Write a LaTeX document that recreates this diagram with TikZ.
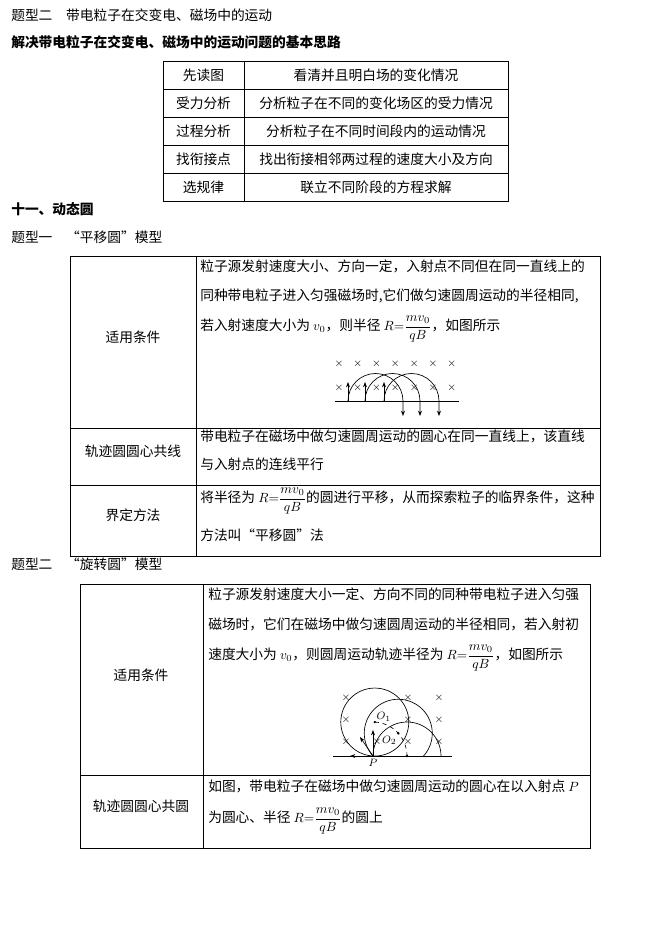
\documentclass[tikz,border=0pt]{standalone}
\usepackage{fontspec}
\setmainfont{Noto Sans CJK SC}
\usepackage{amsmath}
\usetikzlibrary{calc,arrows.meta}
\tikzset{
  txt/.style={anchor=base west,inner sep=0.75pt,font=\fontsize{10.3}{12}\selectfont},
  ctxt/.style={inner sep=0.75pt,font=\fontsize{10.3}{12}\selectfont},
  crs/.style={inner sep=0pt,font=\footnotesize},
  arr/.style={-{Stealth[length=4pt,width=3pt]},line width=0.5pt},
}
\newcommand{\Rfrac}{$R{=}\dfrac{mv_0}{qB}$}
\begin{document}
\begin{tikzpicture}[x=0.75pt,y=0.75pt,yscale=-1,xscale=1]
\useasboundingbox (0,0) rectangle (669,945);

% headings
\node (h1) at (10,20.5) [txt] {题型二\quad 带电粒子在交变电、磁场中的运动};
\node (h2) at (10,47.5) [txt,font=\fontsize{10.3}{12}\selectfont\bfseries] {解决带电粒子在交变电、磁场中的运动问题的基本思路};

% table 1
\draw (163,61) rectangle (508,201);
\draw (244,61) -- (244,201);
\foreach \y in {89,117,145,173} \draw (163,\y) -- (508,\y);
\node (a1) at (203.5,75) [ctxt] {先读图};
\node (b1) at (376,75) [ctxt] {看清并且明白场的变化情况};
\node (a2) at (203.5,103) [ctxt] {受力分析};
\node (b2) at (376,103) [ctxt] {分析粒子在不同的变化场区的受力情况};
\node (a3) at (203.5,131) [ctxt] {过程分析};
\node (b3) at (376,131) [ctxt] {分析粒子在不同时间段内的运动情况};
\node (a4) at (203.5,159) [ctxt] {找衔接点};
\node (b4) at (376,159) [ctxt] {找出衔接相邻两过程的速度大小及方向};
\node (a5) at (203.5,187) [ctxt] {选规律};
\node (b5) at (376,187) [ctxt] {联立不同阶段的方程求解};

\node (h3) at (10,214.5) [txt,font=\fontsize{10.3}{12}\selectfont\bfseries] {十一、动态圆};
\node (h4) at (10,242.5) [txt] {题型一\quad “平移圆”模型};

% table 2
\draw (70,256) rectangle (600,556);
\draw (196,256) -- (196,556);
\draw (70,428) -- (600,428);
\draw (70,485) -- (600,485);
\node (c1) at (133,337) [ctxt] {适用条件};
\node (c2) at (133,451) [ctxt] {轨迹圆圆心共线};
\node (c3) at (133,515) [ctxt] {界定方法};
\node (d1) at (199,271.5) [txt] {粒子源发射速度大小、方向一定，入射点不同但在同一直线上的};
\node (d2) at (199,300.5) [txt] {同种带电粒子进入匀强磁场时,它们做匀速圆周运动的半径相同,};
\node (d3) at (199,330.5) [txt] {若入射速度大小为 $v_0$，则半径 \Rfrac，如图所示};
\node (e1) at (199,441.5) [txt] {带电粒子在磁场中做匀速圆周运动的圆心在同一直线上，该直线};
\node (e2) at (199,469.5) [txt] {与入射点的连线平行};
\node (f1) at (199,502.5) [txt] {将半径为 \Rfrac 的圆进行平移，从而探索粒子的临界条件，这种};
\node (f2) at (199,540.5) [txt] {方法叫“平移圆”法};

% figure 1
\foreach \i in {0,...,6} {
  \node (xa\i) at (339+18.8*\i,364) [crs] {$\times$};
  \node (xb\i) at (339+18.8*\i,388) [crs] {$\times$};
}
\draw[line width=0.5pt] (335,401) -- (459,401);
\foreach \s in {348,365,384} {
  \coordinate (s\s) at (\s,401);
  \draw[arr] (s\s) -- ++(0,-19);
  \draw[arr] (s\s) arc[start angle=180,end angle=360,radius=27.5] -- ++(0,15);
}

\node (h5) at (10,569.5) [txt] {题型二\quad “旋转圆”模型};

% table 3
\draw (80,584) rectangle (590,848);
\draw (203,584) -- (203,848);
\draw (80,775) -- (590,775);
\node (g1) at (141,675) [ctxt] {适用条件};
\node (g2) at (141,806) [ctxt] {轨迹圆圆心共圆};
\node (k1) at (207,599.5) [txt] {粒子源发射速度大小一定、方向不同的同种带电粒子进入匀强};
\node (k2) at (207,629.5) [txt] {磁场时，它们在磁场中做匀速圆周运动的半径相同，若入射初};
\node (k3) at (207,659.5) [txt] {速度大小为 $v_0$，则圆周运动轨迹半径为 \Rfrac，如图所示};
\node (m1) at (207,791.5) [txt] {如图，带电粒子在磁场中做匀速圆周运动的圆心在以入射点 $P$};
\node (m2) at (207,822.5) [txt] {为圆心、半径 \Rfrac 的圆上};

% figure 2
\coordinate (P) at (373,756);
\coordinate (O1) at ($(P)+(-87:34)$);
\coordinate (O2) at ($(P)+(-42:34)$);
\coordinate (O3) at ($(P)+(0:34)$);
\foreach \x/\y in {346/698,408/698,439/698,346/720,408/720,439/720,346/742,377/742,408/742,439/742}
  \node at (\x,\y) [crs] {$\times$};
\begin{scope}
  \clip (330,640) rectangle (460,756);
  \foreach \c in {O1,O2,O3} \draw[line width=0.5pt] (\c) circle[radius=34];
\end{scope}
\draw[line width=0.5pt] (333,756) -- (452,756);
\draw[dashed,line width=0.5pt] (O1) arc[start angle=-87,end angle=0,radius=34];
\foreach \c in {O1,O2,O3} \fill (\c) circle[radius=1.3];
\draw[arr] (P) -- ++(0,-26);
\draw[arr] (P) -- ++(-13,-19);
\draw[arr] (P) -- ++(-23,0);
\node (lP) at ($(P)+(0,2)$) [anchor=north,inner sep=0.5pt,font=\footnotesize] {$P$};
\node (lO1) at ($(O1)+(1,0)$) [anchor=south west,inner sep=0.5pt,font=\footnotesize] {$O_1$};
\node (lO2) at ($(O2)+(-1,2)$) [anchor=north east,inner sep=0.5pt,font=\footnotesize] {$O_2$};
\end{tikzpicture}
\end{document}
